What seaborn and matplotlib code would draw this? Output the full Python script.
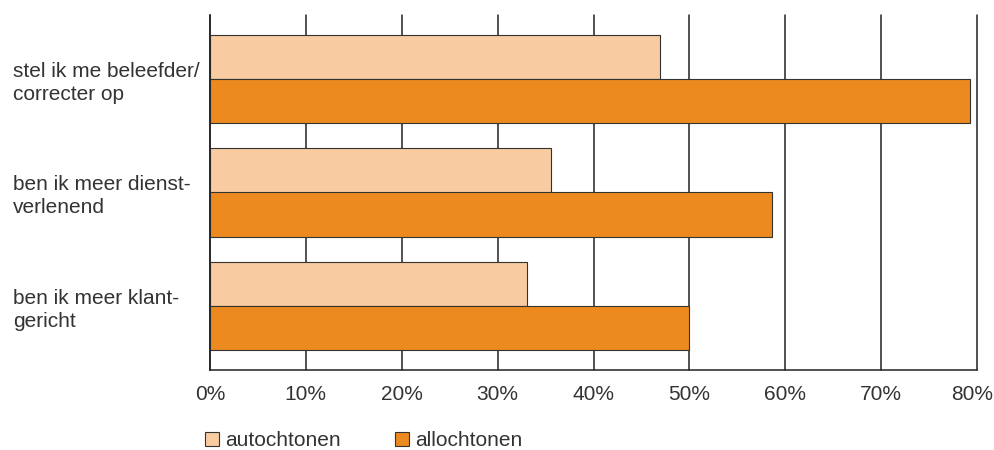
import matplotlib
matplotlib.use("Agg")
import matplotlib.pyplot as plt
import matplotlib.transforms as mtransforms
from matplotlib.patches import Patch
import seaborn as sns
import pandas as pd

# Survey answers (percentage of respondents)
categories = [
    "stel ik me beleefder/\ncorrecter op",
    "ben ik meer dienst-\nverlenend",
    "ben ik meer klant-\ngericht",
]
groups = ["autochtonen", "allochtonen"]
autochtonen = [46.9, 35.6, 33.1]
allochtonen = [79.3, 58.6, 50.0]
xticks = [0, 10, 20, 30, 40, 50, 60, 70, 80]
xtick_labels = ["0%", "10%", "20%", "30%", "40%", "50%", "60%", "70%", "80%"]

colors = {"autochtonen": "#F8CBA0", "allochtonen": "#EC8A20"}
text_color = "#333333"
line_color = "#222222"

df = pd.DataFrame({
    "categorie": categories * 2,
    "groep": [groups[0]] * len(categories) + [groups[1]] * len(categories),
    "waarde": autochtonen + allochtonen,
})

sns.set_theme(style="white")
plt.rcParams["font.family"] = ["Liberation Sans", "DejaVu Sans"]

fig = plt.figure(figsize=(9.95, 4.5), dpi=100)
ax = fig.add_axes([210 / 995, 1 - 370 / 450, 767 / 995, 355 / 450])

sns.barplot(
    data=df, x="waarde", y="categorie", hue="groep", orient="h",
    palette=colors, saturation=1, width=0.78, edgecolor="#333333",
    linewidth=0.8, legend=False, ax=ax, errorbar=None,
)

ax.set_xlim(0, 80)
ax.set_ylim(2.564, -0.564)
ax.set_xticks(xticks)
ax.set_xticklabels(xtick_labels)
ax.set_xlabel("")
ax.set_ylabel("")

ax.set_axisbelow(True)
ax.grid(axis="x", color=line_color, linewidth=1.1)
ax.grid(axis="y", visible=False)
for g in ax.get_xgridlines():
    g.set_clip_on(False)

for side in ["top", "right"]:
    ax.spines[side].set_visible(False)
for side in ["left", "bottom"]:
    ax.spines[side].set_color(line_color)
    ax.spines[side].set_linewidth(1.1)

ax.tick_params(axis="x", length=0, pad=11, labelsize=15, labelcolor=text_color)
ax.tick_params(axis="y", length=0, pad=142, labelsize=15, labelcolor=text_color)
for lbl in ax.get_yticklabels():
    lbl.set_horizontalalignment("left")
    lbl.set_linespacing(1.25)

# keep the last tick label inside the figure edge
last = ax.get_xticklabels()[-1]
last.set_transform(last.get_transform() +
                   mtransforms.ScaledTranslation(-5 / 100, 0, fig.dpi_scale_trans))

handles = [
    Patch(facecolor=colors[g], edgecolor="#333333", linewidth=0.8, label=g)
    for g in groups
]
fig.legend(
    handles=handles, loc="center left", bbox_to_anchor=(186 / 995, 1 - 441 / 450),
    ncol=2, frameon=False, fontsize=15, handlelength=0.68, handleheight=0.68,
    handletextpad=0.3, columnspacing=2.6, labelcolor=text_color,
)

fig.savefig("out.png", dpi=100)
